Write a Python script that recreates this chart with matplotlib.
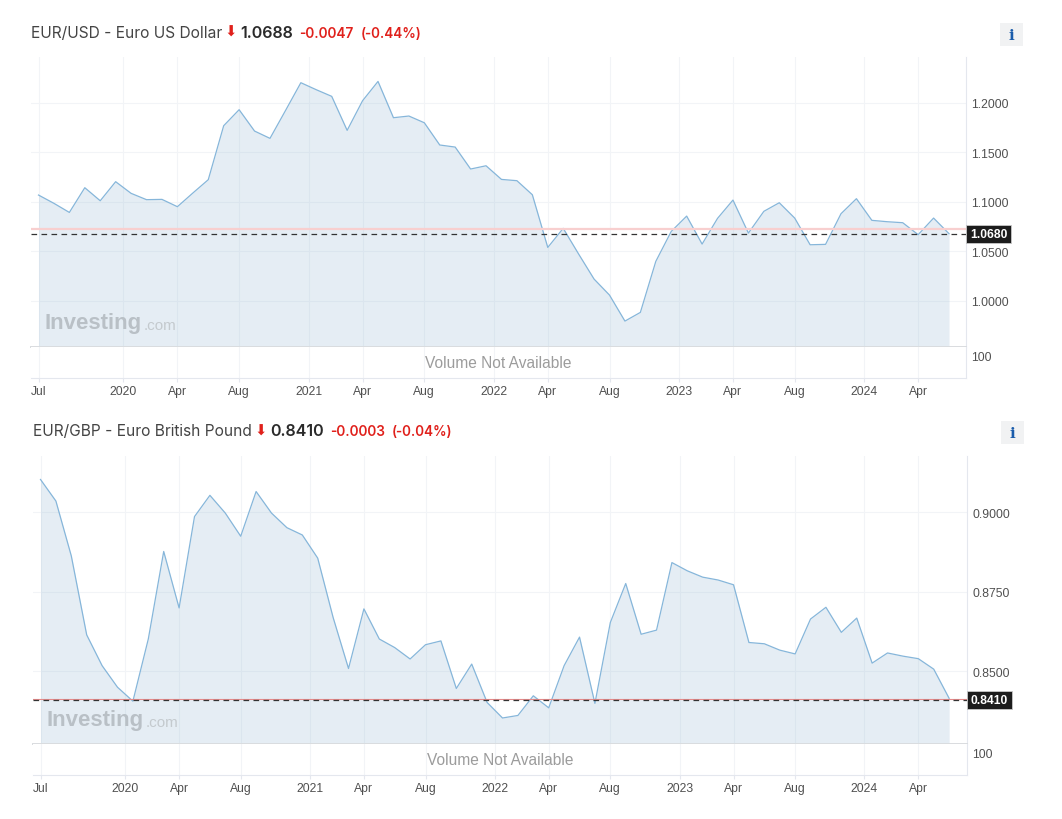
import numpy as np
import matplotlib
matplotlib.use("Agg")
import matplotlib.pyplot as plt
from matplotlib.patches import Rectangle

W, H = 1062, 820

usd_values = [1.1069, 1.0985, 1.0893, 1.1143, 1.1011, 1.1204, 1.1086, 1.1022, 1.1025, 1.0951,
              1.1089, 1.1224, 1.1770, 1.1932, 1.1716, 1.1642, 1.1922, 1.2205, 1.2134, 1.2067,
              1.1723, 1.2023, 1.2218, 1.1851, 1.1868, 1.1800, 1.1575, 1.1554, 1.1332, 1.1365,
              1.1227, 1.1214, 1.1072, 1.0539, 1.0732, 1.0472, 1.0219, 1.0057, 0.9794, 0.9882,
              1.0398, 1.0701, 1.0856, 1.0573, 1.0833, 1.1018, 1.0684, 1.0904, 1.0991, 1.0836,
              1.0566, 1.0570, 1.0880, 1.1032, 1.0813, 1.0799, 1.0789, 1.0668, 1.0836, 1.0678]
gbp_values = [0.9104, 0.9036, 0.8863, 0.8614, 0.8517, 0.8449, 0.8405, 0.8601, 0.8877, 0.8699,
              0.8987, 0.9054, 0.8998, 0.8925, 0.9066, 0.8998, 0.8952, 0.8929, 0.8856, 0.8669,
              0.8508, 0.8696, 0.8601, 0.8574, 0.8538, 0.8583, 0.8595, 0.8445, 0.8522, 0.8401,
              0.8352, 0.8360, 0.8422, 0.8384, 0.8517, 0.8607, 0.8398, 0.8653, 0.8776, 0.8616,
              0.8629, 0.8842, 0.8816, 0.8796, 0.8787, 0.8772, 0.8590, 0.8586, 0.8566, 0.8554,
              0.8664, 0.8701, 0.8622, 0.8667, 0.8525, 0.8557, 0.8547, 0.8539, 0.8506, 0.8414]

date_ticks = [0, 5.5, 9, 13, 17.5, 21, 25, 29.5, 33, 37, 41.5, 45, 49, 53.5, 57]
date_labels = ["Jul", "2020", "Apr", "Aug", "2021", "Apr", "Aug", "2022", "Apr", "Aug",
               "2023", "Apr", "Aug", "2024", "Apr"]

usd_ticks = [1.0, 1.05, 1.10, 1.15, 1.20]
usd_tick_labels = ["1.0000", "1.0500", "1.1000", "1.1500", "1.2000"]
gbp_ticks = [0.85, 0.875, 0.90]
gbp_tick_labels = ["0.8500", "0.8750", "0.9000"]

LINE = "#86b6da"
FILL = "#7fa9cb"
GRID = "#f2f4f7"
EDGE = "#e4e7ee"
RED = "#e0201b"
LOGO = "#b9c0c6"
TICK_FONT = "Liberation Sans"
HEAD_FONT = "Inter"

fig = plt.figure(figsize=(W / 100, H / 100), dpi=100)


def px_axes(left, top, right, bottom):
    return fig.add_axes([left / W, 1 - bottom / H, (right - left) / W, (bottom - top) / H])


def px_text(x, y, s, **kw):
    fig.text(x / W, 1 - y / H, s, va="center", **kw)


def draw_chart(box, xlim, ylim, values, ticks, tick_labels, red_level, red_lw, red_color, dash_level, last_label, logo_xy):
    left, top, right, mid, bottom = box
    ax = px_axes(left, top, right, mid)
    xs = np.arange(len(values))
    ax.fill_between(xs, values, ylim[0], color=FILL, alpha=0.2, lw=0, zorder=2)
    ax.plot(xs, values, color=LINE, lw=0.9, zorder=3)
    ax.set_xlim(xlim)
    ax.set_ylim(ylim)
    ax.set_xticks(date_ticks)
    ax.set_xticklabels([])
    ax.set_yticks(ticks)
    ax.set_yticklabels(tick_labels, fontsize=8.7, color="#505050", family=TICK_FONT)
    ax.yaxis.tick_right()
    ax.tick_params(axis="both", length=0, pad=4)
    ax.grid(True, color=GRID, lw=0.8)
    ax.axhline(red_level, color=red_color, lw=red_lw, zorder=4)
    ax.axhline(dash_level, color="#333333", lw=0.9, dashes=(4.5, 3.5), zorder=5)
    for name in ["top", "left"]:
        ax.spines[name].set_visible(False)
    ax.spines["right"].set_color(EDGE)
    ax.spines["bottom"].set_color("#d9dcdf")
    ax.spines["bottom"].set_linewidth(1.4)
    ax.spines["bottom"].set_zorder(6)

    # label on the price scale
    y_px = top + (ylim[1] - dash_level) / (ylim[1] - ylim[0]) * (mid - top)
    fig.add_artist(Rectangle((right / W, 1 - (y_px + 9) / H), 45 / W, 18 / H, transform=fig.transFigure,
                             facecolor="#1c1c1c", edgecolor="#c8c8c8", lw=0.6, zorder=10))
    fig.text((right + 22.5) / W, 1 - y_px / H, last_label, color="white", fontsize=8.7, fontweight="bold",
             family=TICK_FONT, ha="center", va="center", zorder=11)

    # volume strip
    vol = px_axes(left, mid, right, bottom)
    vol.set_xlim(xlim)
    vol.set_ylim(0, 135)
    vol.set_xticks(date_ticks)
    vol.set_xticklabels(date_labels, fontsize=8.7, color="#505050", family=TICK_FONT)
    vol.set_yticks([100])
    vol.set_yticklabels(["100"], fontsize=8.7, color="#505050", family=TICK_FONT)
    vol.yaxis.tick_right()
    vol.tick_params(axis="y", length=0, pad=4)
    vol.tick_params(axis="x", length=3, width=0.8, color=EDGE, pad=2)
    vol.grid(True, axis="x", color=GRID, lw=0.8)
    for name in ["top", "left"]:
        vol.spines[name].set_visible(False)
    vol.spines["right"].set_color(EDGE)
    vol.spines["bottom"].set_color(EDGE)
    vol.text(0.5, 0.5, "Volume Not Available", transform=vol.transAxes, ha="center", va="center",
             fontsize=11.2, color="#9c9c9c", family="Liberation Sans")

    # watermark
    px_text(logo_xy[0], logo_xy[1], "Investing", fontsize=16, fontweight="bold", color=LOGO,
            family="Liberation Sans", zorder=8)
    px_text(logo_xy[0] + 99, logo_xy[1] + 2, ".com", fontsize=11, color="#c4cace", family="Liberation Sans", zorder=8)


def draw_header(x0, y, name, arrow_x, price, price_x, change, change_x, pct, pct_x, btn_x, btn_y):
    px_text(x0, y, name, fontsize=11.15, color="#444444", family=HEAD_FONT)
    px_text(arrow_x, y - 1, "\u2b07", fontsize=10.5, color=RED, family="DejaVu Sans", ha="center")
    px_text(price_x, y, price, fontsize=11.6, color="#2a2a2a", family=HEAD_FONT, fontweight="semibold")
    px_text(change_x, y, change, fontsize=9.8, color=RED, family=HEAD_FONT, fontweight="semibold")
    px_text(pct_x, y, pct, fontsize=9.7, color=RED, family=HEAD_FONT, fontweight="semibold")
    fig.add_artist(Rectangle((btn_x / W, 1 - (btn_y + 23) / H), 23 / W, 23 / H, transform=fig.transFigure,
                             facecolor="#f1f2f3", edgecolor="none"))
    px_text(btn_x + 11.5, btn_y + 12, "i", fontsize=11, color="#1a5cab", family="DejaVu Serif",
            fontweight="bold", ha="center")


draw_chart((31, 58, 966, 348, 379), (-0.486, 60.1), (0.9532, 1.2465), usd_values, usd_ticks, usd_tick_labels,
           1.0725, 1.6, "#f8cfcf", 1.0672, "1.0680", (45, 324))
draw_chart((33, 457, 967, 745, 776), (-0.487, 60.16), (0.8270, 0.9178), gbp_values, gbp_ticks, gbp_tick_labels,
           0.8413, 0.8, "#e58a8a", 0.8410, "0.8410", (47, 721))

draw_header(31, 33.5, "EUR/USD - Euro US Dollar", 231, "1.0688", 240, "-0.0047", 299, "(-0.44%)", 361, 1000, 24)
draw_header(33, 432, "EUR/GBP - Euro British Pound", 261, "0.8410", 270, "-0.0003", 330, "(-0.04%)", 392, 1001, 422)

plt.savefig("out.png", dpi=100)
